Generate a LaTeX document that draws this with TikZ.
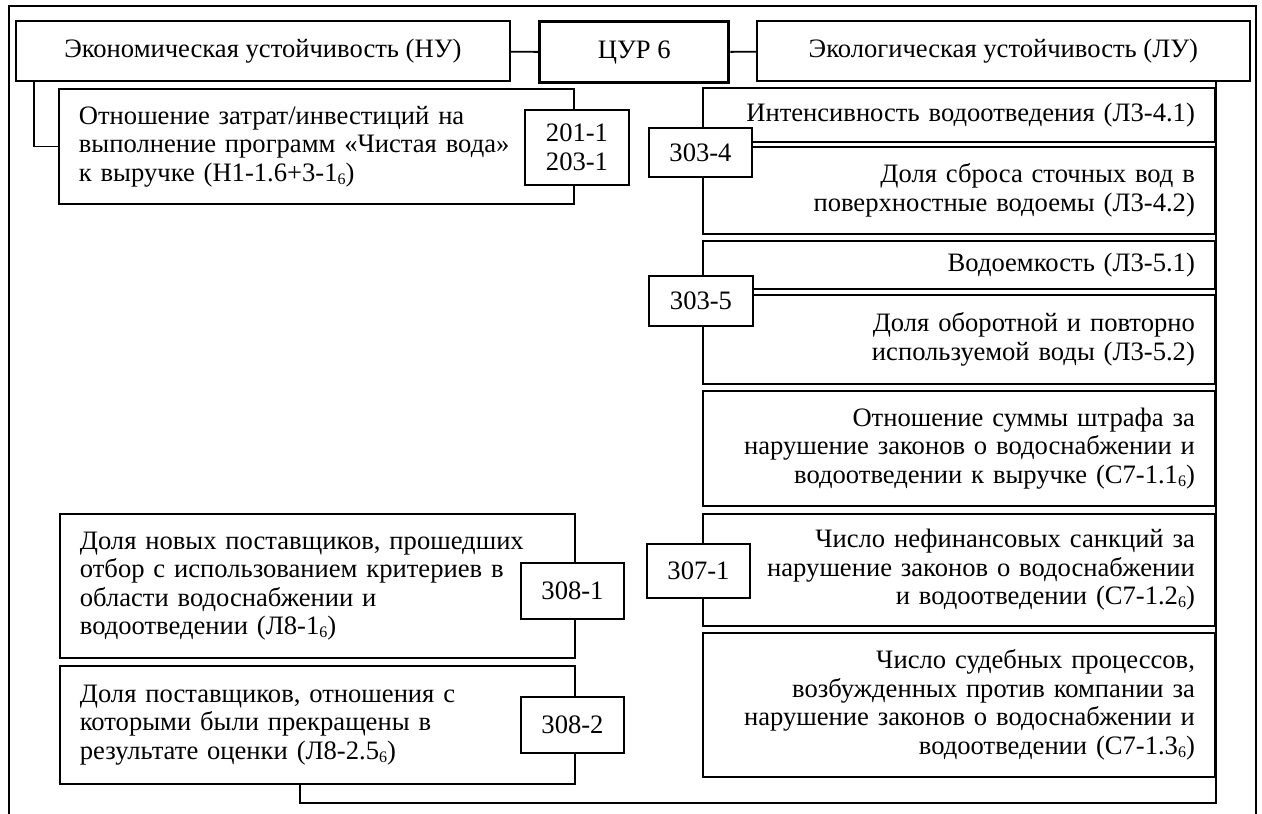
\documentclass[tikz,border=0pt]{standalone}
\usepackage{fontspec}
\setmainfont{Liberation Serif}
\newcommand\boxfont{\fontsize{26.6}{28.5}\selectfont}
\newcommand\idx[1]{\raisebox{-3pt}{\fontsize{16}{16}\selectfont #1}}
\begin{document}
\begin{tikzpicture}[x=1pt,y=-1pt,
  line/.style={line width=1.8pt},
  box/.style={draw, line width=1.8pt, fill=white, inner ysep=0pt, font=\boxfont},
  head/.style={box, inner xsep=0pt, align=center},
  lbox/.style={box, inner xsep=20pt, text width=475pt, align=left},
  rbox/.style={box, inner xsep=20pt, text width=472pt, align=right},
  tag/.style={box, inner xsep=0pt, minimum width=103pt, align=center}]
\useasboundingbox (0,0) rectangle (1262,814);

% outer frame
\draw[line width=2pt] (9,814) -- (9,6) -- (1256,6) -- (1256,814);

% top row
\node[head, minimum width=494pt, minimum height=60pt, anchor=north west] (nu) at (15,20)
  {Экономическая устойчивость (НУ)};
\node[head, line width=3.4pt, minimum width=189pt, minimum height=61pt, anchor=north west] (sdg) at (538,20)
  {ЦУР 6};
\node[head, minimum width=493pt, minimum height=60pt, anchor=north west] (lu) at (756,20)
  {Экологическая устойчивость (ЛУ)};

% right column: environmental indicators
\node[rbox, minimum height=54pt, anchor=north west] (r1) at (702,87)
  {Интенсивность водоотведения (Л3-4.1)};
\node[rbox, minimum height=87pt, anchor=north west] (r2) at (702,146)
  {Доля сброса сточных вод в\\ поверхностные водоемы (Л3-4.2)};
\node[rbox, minimum height=48pt, anchor=north west] (r3) at (702,240)
  {Водоемкость (Л3-5.1)};
\node[rbox, minimum height=89pt, anchor=north west] (r4) at (702,294)
  {Доля оборотной и повторно\\ используемой воды (Л3-5.2)};
\node[rbox, minimum height=115pt, anchor=north west] (r5) at (702,390)
  {Отношение суммы штрафа за\\ нарушение законов о водоснабжении и\\ водоотведении к выручке (С7-1.1\idx{6})};
\node[rbox, minimum height=112pt, anchor=north west] (r6) at (702,513)
  {Число нефинансовых санкций за\\ нарушение законов о водоснабжении\\ и водоотведении (С7-1.2\idx{6})};
\node[rbox, minimum height=144pt, anchor=north west] (r7) at (702,632)
  {Число судебных процессов,\\ возбужденных против компании за\\ нарушение законов о водоснабжении и\\ водоотведении (С7-1.3\idx{6})};

% left column
\node[lbox, minimum height=115pt, anchor=north west] (c1) at (58,88)
  {Отношение затрат/инвестиций на\\ выполнение программ «Чистая вода»\\ к выручке (Н1-1.6+3-1\idx{6})};
\node[lbox, minimum height=144pt, anchor=north west] (l1) at (59,513)
  {Доля новых поставщиков, прошедших\\ отбор с использованием критериев в\\ области водоснабжении и\\ водоотведении (Л8-1\idx{6})};
\node[lbox, minimum height=118pt, anchor=north west] (l2) at (59,665)
  {Доля поставщиков, отношения с\\ которыми были прекращены в\\ результате оценки (Л8-2.5\idx{6})};

% connectors
\coordinate (turn) at (300,803);
\draw[line] (nu) -- (sdg);
\draw[line] (sdg) -- (lu);
\draw[line] ([xshift=19pt]nu.south west) |- (c1.west);
\draw[line] (lu.south -| r1.east) |- (turn) -- (turn |- l2.south);

% code tags
\node[tag, minimum width=104pt, minimum height=75pt] (t1) at (577,147.5) {201-1\\203-1};
\node[tag, minimum height=49pt] (t2) at (700.5,152.5) {303-4};
\node[tag, minimum width=104pt, minimum height=50pt] (t3) at (701,301) {303-5};
\node[tag, minimum height=54pt] (t4) at (698.5,571) {307-1};
\node[tag, minimum height=56pt] (t5) at (572.5,591) {308-1};
\node[tag, minimum height=56pt] (t6) at (572.5,725) {308-2};
\end{tikzpicture}
\end{document}
